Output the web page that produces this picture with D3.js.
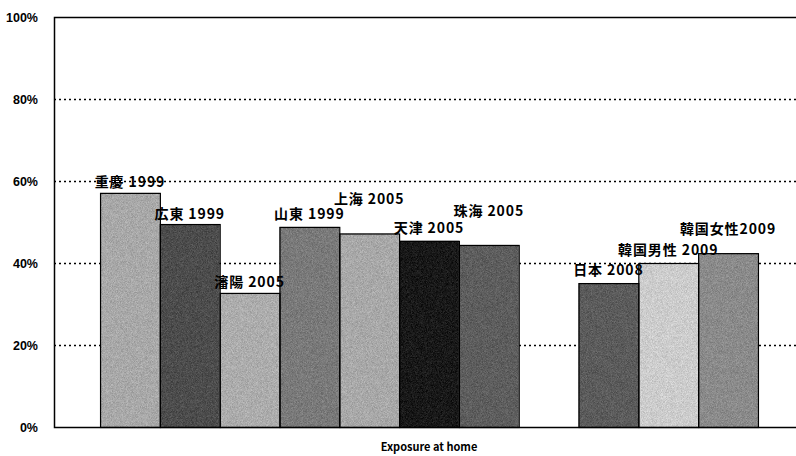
<!DOCTYPE html>
<html>
<head>
<meta charset="utf-8">
<script src="https://cdn.jsdelivr.net/npm/d3@7"></script>
<style>
body { margin:0; background:#fff; }
svg { display:block; }
.tick text { font-family: Arial, "Liberation Sans", sans-serif; font-weight:bold; font-size:12.5px; fill:#000; }
</style>
</head>
<body>
<svg id="graph"></svg>
<script>
// data
var labels = ["重慶 1999","広東 1999","瀋陽 2005","山東 1999","上海 2005","天津 2005","珠海 2005",
              "gap",
              "日本 2008","韓国男性 2009","韓国女性2009"]
var values = [57.1, 49.5, 32.7, 48.8, 47.2, 45.4, 44.4, null, 35.1, 40.0, 42.4]
var yTicks = [0, 20, 40, 60, 80, 100]

// styling kept apart from the data
var fills = ["#b0b0b0","#444444","#b4b4b4","#787878","#b0b0b0","#060606","#585858",null,"#555555","#dadada","#8c8c8c"]
var labelLift = [6, 5, 6, 8, 29, 8, 29, 0, 8, 8, 19]

var screen = {width:796, height:456}
var margin = {left:54, top:17, right:804, bottom:427}

var svg = d3.select("#graph")
    .attr("width",screen.width)
    .attr("height",screen.height)

var defs = svg.append("defs")
var grain = defs.append("filter").attr("id","grain")
    .attr("x",0).attr("y",0).attr("width",1).attr("height",1)
    .attr("color-interpolation-filters","sRGB")
grain.append("feTurbulence")
    .attr("type","fractalNoise").attr("baseFrequency",1.8).attr("numOctaves",1).attr("seed",4)
    .attr("result","noise")
grain.append("feColorMatrix").attr("in","noise").attr("type","matrix")
    .attr("values","2 0 0 0 -0.5  2 0 0 0 -0.5  2 0 0 0 -0.5  0 0 0 0 0.15")
    .attr("result","gray")
grain.append("feComposite").attr("in","gray").attr("in2","SourceGraphic").attr("operator","in").attr("result","speck")
var merge = grain.append("feMerge")
merge.append("feMergeNode").attr("in","SourceGraphic")
merge.append("feMergeNode").attr("in","speck")

var xscale = d3.scaleBand()
    .domain(labels)
    .range([margin.left, margin.right])
    .paddingInner(0)
    .paddingOuter(0.77)

var yscale = d3.scaleLinear()
    .domain([0,100])
    .range([margin.bottom, margin.top])

// dotted gridlines
svg.append("g")
    .selectAll("line")
    .data(yTicks.filter(function(t){ return t>0 && t<100 }))
    .enter()
    .append("line")
    .attr("x1",margin.left)
    .attr("x2",margin.right)
    .attr("y1",function(t){ return yscale(t)+0.5 })
    .attr("y2",function(t){ return yscale(t)+0.5 })
    .attr("stroke","#000")
    .attr("stroke-width",1.3)
    .attr("stroke-dasharray","2,3")

var bars = labels.map(function(l,i){ return {label:l, value:values[i], fill:fills[i], lift:labelLift[i]} })
    .filter(function(d){ return d.value!=null })

svg.append("g")
    .selectAll("rect")
    .data(bars)
    .enter()
    .append("rect")
    .attr("x",function(d){ return xscale(d.label) })
    .attr("y",function(d){ return yscale(d.value) })
    .attr("width",xscale.bandwidth())
    .attr("height",function(d){ return yscale(0)-yscale(d.value) })
    .attr("fill",function(d){ return d.fill })
    .attr("filter","url(#grain)")

svg.append("g")
    .selectAll("rect")
    .data(bars)
    .enter()
    .append("rect")
    .attr("x",function(d){ return xscale(d.label)+0.5 })
    .attr("y",function(d){ return yscale(d.value)+0.5 })
    .attr("width",xscale.bandwidth())
    .attr("height",function(d){ return yscale(0)-yscale(d.value) })
    .attr("fill","none")
    .attr("stroke","#000")
    .attr("stroke-width",1.2)

// frame
svg.append("rect")
    .attr("x",margin.left+0.5)
    .attr("y",margin.top+0.5)
    .attr("width",margin.right-margin.left)
    .attr("height",margin.bottom-margin.top)
    .attr("fill","none")
    .attr("stroke","#000")
    .attr("stroke-width",1.5)

var yAxis = d3.axisLeft(yscale)
    .tickValues(yTicks)
    .tickSize(0)
    .tickPadding(16)
    .tickFormat(function(t){ return t+"%" })

svg.append("g")
    .attr("transform","translate("+margin.left+",0)")
    .call(yAxis)
    .call(function(g){ g.select(".domain").remove() })

// data labels
svg.append("g")
    .selectAll("text")
    .data(bars)
    .enter()
    .append("text")
    .attr("x",function(d){ return xscale(d.label)+xscale.bandwidth()/2 })
    .attr("y",function(d){ return yscale(d.value)-d.lift })
    .attr("text-anchor","middle")
    .style("font-family","'Noto Sans CJK JP', sans-serif")
    .style("font-weight","bold")
    .style("font-size","14px")
    .style("letter-spacing","0.9px")
    .text(function(d){ return d.label })

svg.append("text")
    .attr("x",429)
    .attr("y",451)
    .attr("text-anchor","middle")
    .style("font-family","'Noto Sans CJK JP', sans-serif")
    .style("font-weight","bold")
    .style("font-size","11px")
    .text("Exposure at home")
</script>
</body>
</html>
